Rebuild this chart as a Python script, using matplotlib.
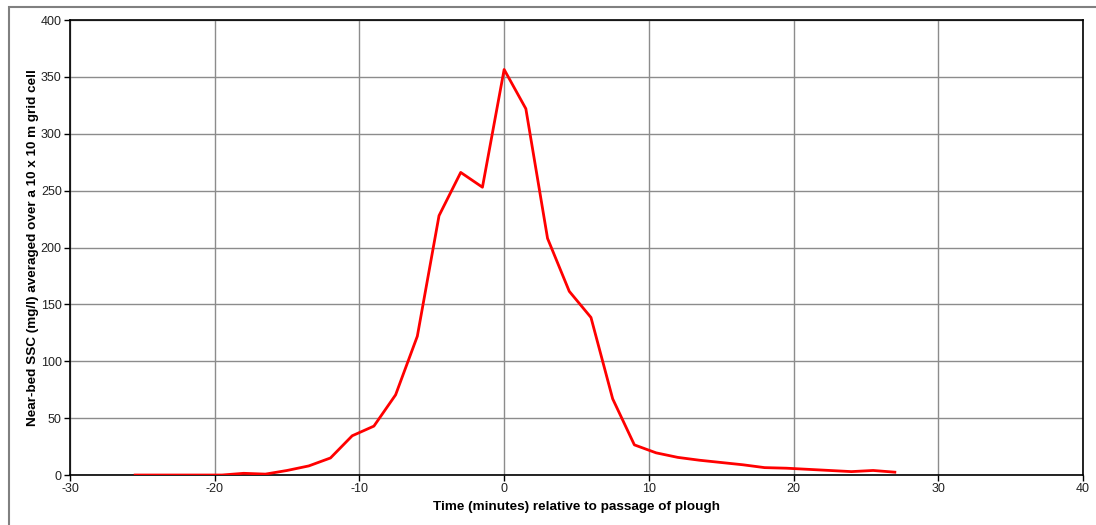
import numpy as np
import matplotlib.pyplot as plt
from matplotlib.patches import Rectangle

plt.rcParams['font.family'] = ['Liberation Sans', 'DejaVu Sans']
plt.rcParams['axes.unicode_minus'] = False

# czas wzgledem przejscia pluga (min) i stezenie SSC (mg/l)
time_min = [-25.5, -24, -22.5, -21, -19.5, -18, -16.5, -15, -13.5, -12,
            -10.5, -9, -7.5, -6, -4.5, -3, -1.5, 0, 1.5, 3,
            4.5, 6, 7.5, 9, 10.5, 12, 13.5, 15, 16.5, 18,
            19.5, 21, 22.5, 24, 25.5, 27]
ssc = [0, 0, 0, 0, 0, 1.5, 0.8, 4, 8, 15,
       34.5, 43, 70.5, 122, 228, 266, 253, 356.5, 322, 208,
       161.5, 138.5, 67, 26.5, 19.5, 15.5, 13, 11, 9, 6.5,
       6, 5, 4, 3, 4, 2.5]

xticks = np.arange(-30, 41, 10)
yticks = np.arange(0, 401, 50)

fig = plt.figure(figsize=(10.96, 5.25), dpi=100)
ax = fig.add_axes([0.0639, 0.0952, 0.9242, 0.8667])

# ramka wykresu jak w Excelu
fig.patches.append(Rectangle((8.5 / 1096, -0.1), 1.2, 1.1 - 6.5 / 525,
                             transform=fig.transFigure, fill=False,
                             edgecolor='#808080', linewidth=1.5))

ax.plot(time_min, ssc, color='#ff0000', linewidth=2, zorder=3)

ax.set_xlim(-30, 40)
ax.set_ylim(0, 400)
ax.set_xticks(xticks)
ax.set_yticks(yticks)
ax.grid(True, color='#8c8c8c', linewidth=1)
ax.set_axisbelow(True)
for s in ax.spines.values():
    s.set_linewidth(1.2)
    s.set_color('black')
ax.tick_params(direction='out', length=4, width=1, labelsize=9, colors='black',
               labelcolor='#222222', pad=2)

ax.set_xlabel('Time (minutes) relative to passage of plough', fontsize=9.7,
              fontweight='bold', labelpad=4)
ax.set_ylabel('Near-bed SSC (mg/l) averaged over a 10 x 10 m grid cell',
              fontsize=9.7, fontweight='bold', labelpad=1)

plt.savefig('out.png', dpi=100)
